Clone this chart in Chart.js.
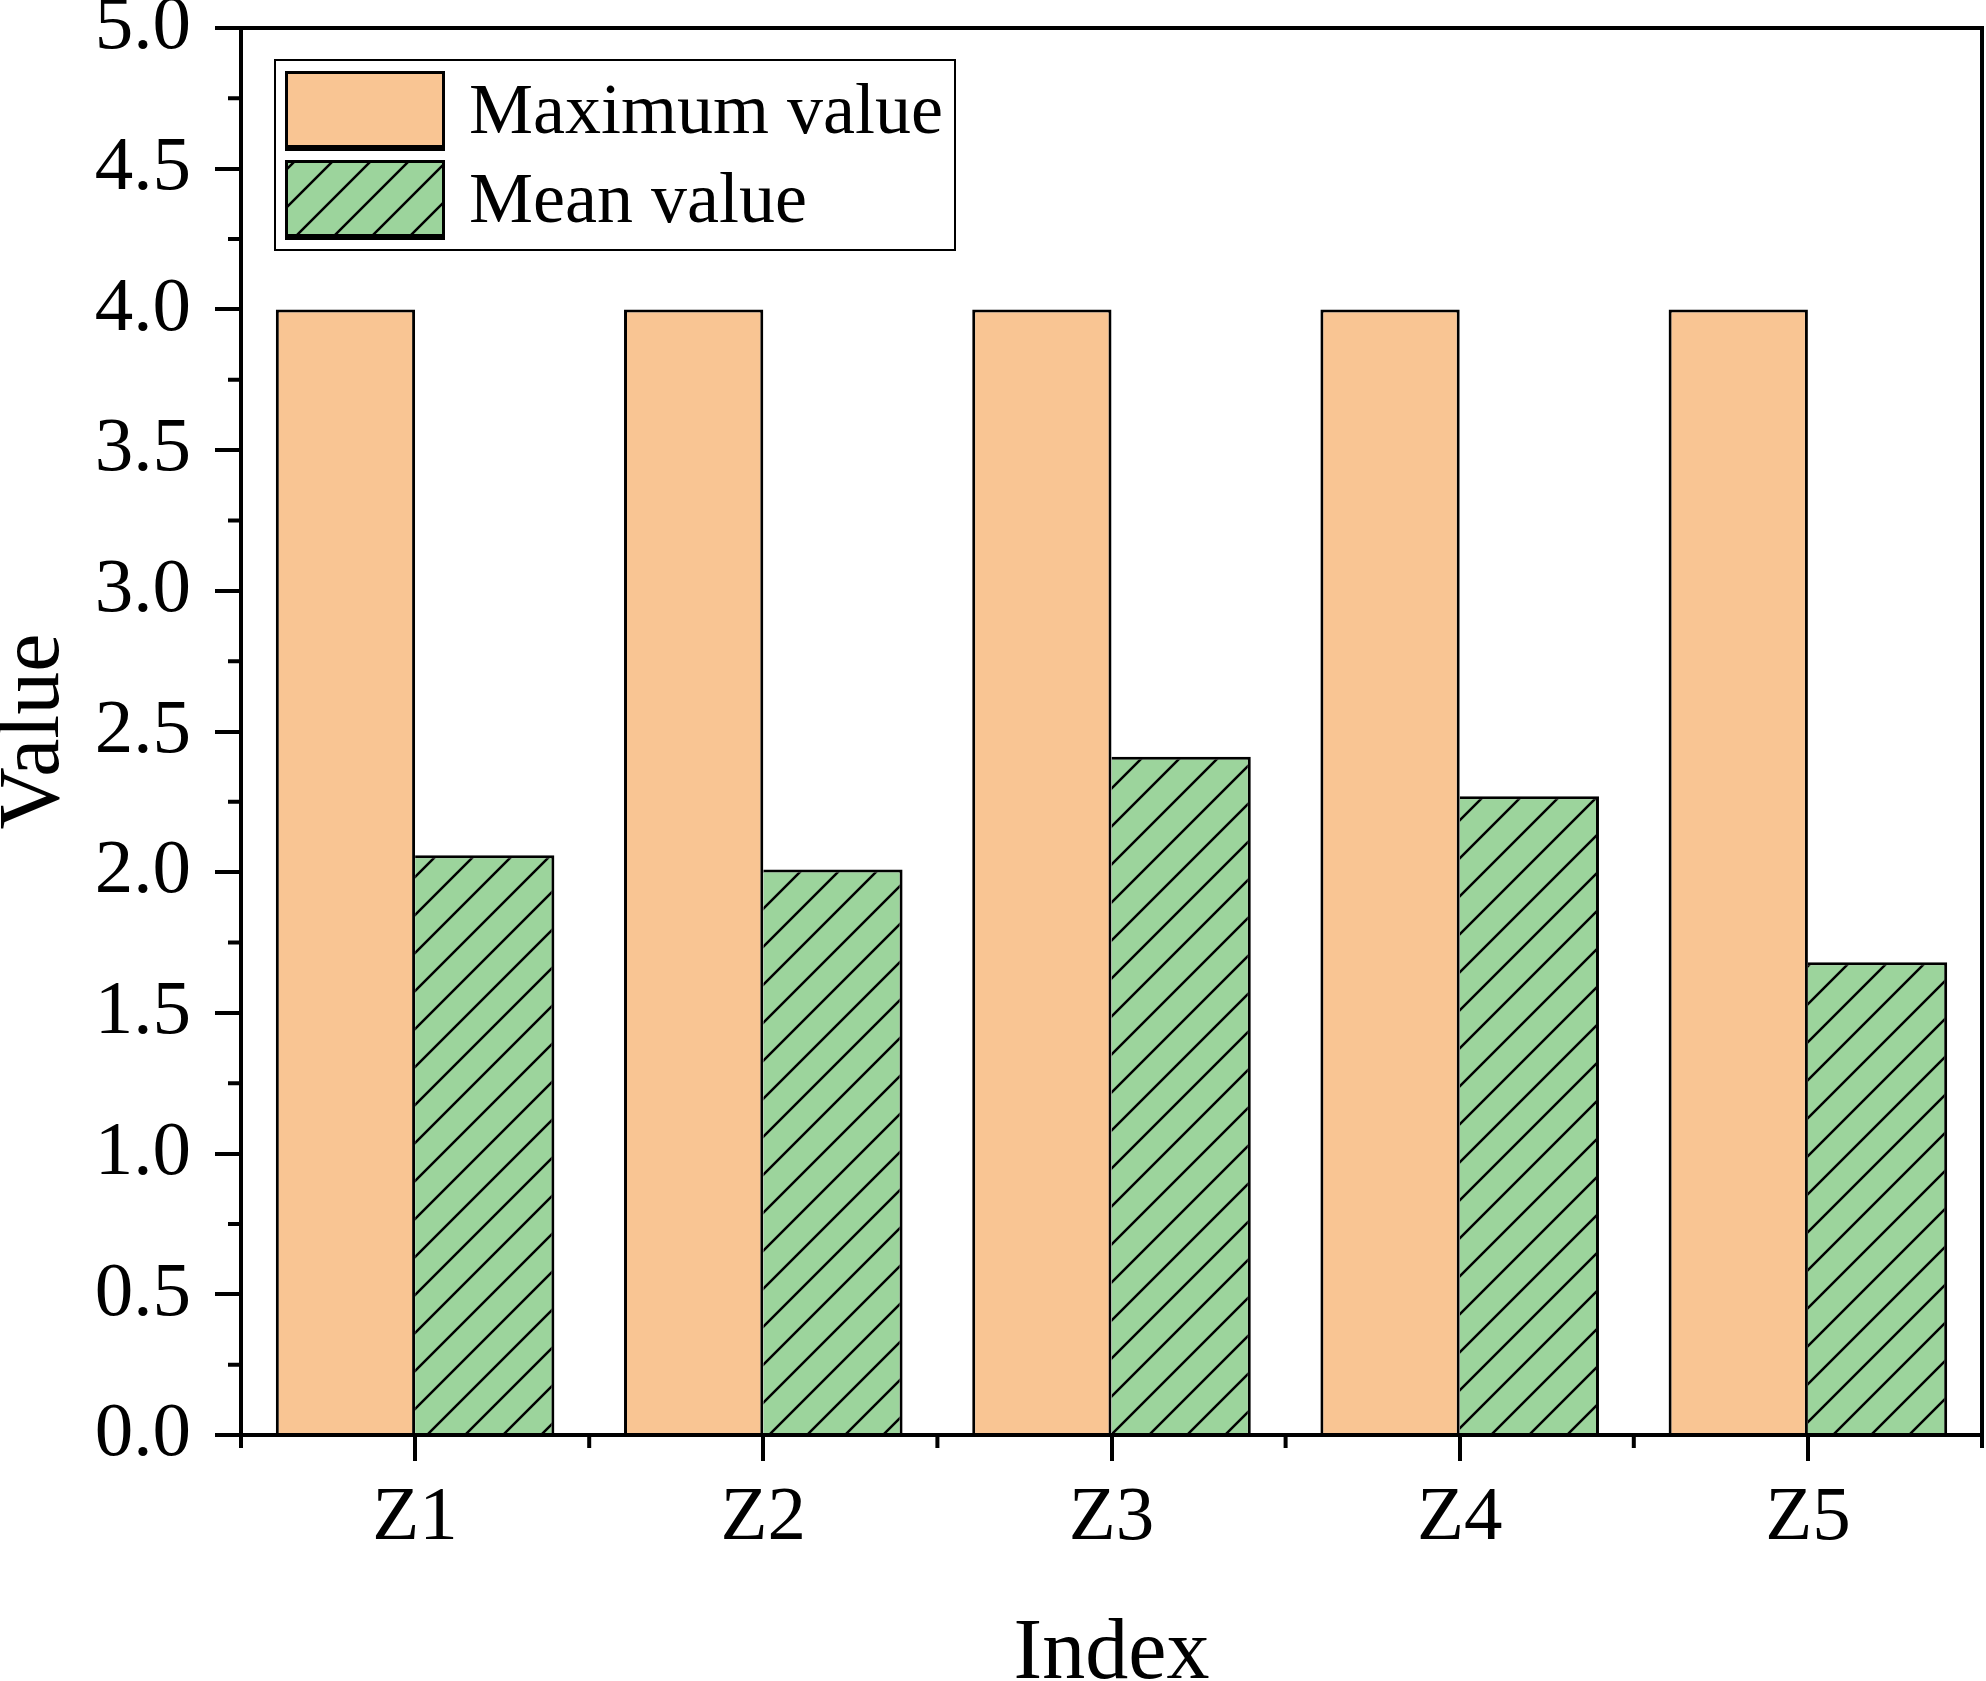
<!DOCTYPE html>
<html>
<head>
<meta charset="utf-8">
<script src="https://cdn.jsdelivr.net/npm/chart.js@4.4.1/dist/chart.umd.min.js"></script>
<style>
html, body { margin: 0; padding: 0; background: #fff; }
canvas { display: block; }
</style>
</head>
<body>
<canvas id="chart" width="1986" height="1681"></canvas>
<script>
// data
const categories = ['Z1', 'Z2', 'Z3', 'Z4', 'Z5']
const maxValues = [4.0, 4.0, 4.0, 4.0, 4.0]
const meanValues = [2.06, 2.01, 2.41, 2.27, 1.68]
const seriesNames = ['Maximum value', 'Mean value']
const yMin = 0
const yMax = 5
const yStep = 0.5

const FONT = '"Liberation Serif", "Times New Roman", serif'
const ORANGE = '#F9C593'
const GREEN = '#9CD49C'

// diagonal hatch like the origin plot
function makeHatch(bg) {
    const s = 38
    const c = document.createElement('canvas')
    c.width = s
    c.height = s
    const g = c.getContext('2d')
    g.fillStyle = bg
    g.fillRect(0, 0, s, s)
    g.strokeStyle = '#000'
    g.lineWidth = 2.5
    g.beginPath()
    g.moveTo(0, s); g.lineTo(s, 0)
    g.moveTo(-2, 2); g.lineTo(2, -2)
    g.moveTo(s - 2, s + 2); g.lineTo(s + 2, s - 2)
    g.stroke()
    return g.createPattern(c, 'repeat')
}
const hatch = makeHatch(GREEN)

// frame, minor ticks and legend box
const extras = {
    id: 'extras',
    afterDraw(chart) {
        const { ctx, chartArea: a } = chart
        const x = chart.scales.x
        const y = chart.scales.y
        ctx.save()
        ctx.strokeStyle = '#000'
        ctx.lineWidth = 4
        ctx.beginPath()
        for (let v = yMin + yStep / 2; v < yMax; v += yStep) {
            const py = y.getPixelForValue(v)
            ctx.moveTo(a.left - 13, py)
            ctx.lineTo(a.left, py)
        }
        for (let i = 0; i <= categories.length; i++) {
            const px = x.getPixelForValue(i - 0.5)
            ctx.moveTo(px, a.bottom)
            ctx.lineTo(px, a.bottom + 13)
        }
        ctx.stroke()
        ctx.strokeRect(a.left, a.top, a.right - a.left, a.bottom - a.top)

        // legend
        ctx.lineWidth = 2
        ctx.strokeRect(275, 60, 680, 190)
        const rows = [112, 201]
        chart.data.datasets.forEach((ds, i) => {
            const cy = rows[i]
            const top = cy - 41
            ctx.fillStyle = ds.backgroundColor
            ctx.fillRect(285, top, 160, 80)
            ctx.lineWidth = 3
            ctx.strokeRect(286.5, top + 1.5, 157, 77)
            ctx.fillStyle = '#000'
            ctx.fillRect(285, top + 74, 160, 6)
            ctx.font = '72px ' + FONT
            ctx.textBaseline = 'middle'
            ctx.textAlign = 'left'
            ctx.fillText(ds.label, 469, cy + 2)
        })
        ctx.restore()
    }
}

new Chart(document.getElementById('chart'), {
    type: 'bar',
    data: {
        labels: categories,
        datasets: [{
            label: seriesNames[0],
            data: maxValues,
            backgroundColor: ORANGE,
            borderColor: '#000',
            borderWidth: { top: 3, left: 3, right: 3, bottom: 0 },
            categoryPercentage: 0.8,
            barPercentage: 1.0
        }, {
            label: seriesNames[1],
            data: meanValues,
            backgroundColor: hatch,
            borderColor: '#000',
            borderWidth: { top: 3, left: 0, right: 3, bottom: 0 },
            categoryPercentage: 0.8,
            barPercentage: 1.0
        }]
    },
    options: {
        responsive: false,
        animation: false,
        devicePixelRatio: 1,
        layout: { padding: { top: 28, right: 4, left: 0, bottom: 0 } },
        plugins: {
            legend: { display: false },
            tooltip: { enabled: false }
        },
        scales: {
            x: {
                grid: { display: true, offset: false, drawOnChartArea: false, tickLength: 26, lineWidth: 4, color: '#000' },
                border: { display: true, width: 4, color: '#000' },
                ticks: { color: '#000', padding: 12, font: { family: FONT, size: 77 }, maxRotation: 0 },
                title: { display: true, text: 'Index', color: '#000', padding: 0, font: { family: FONT, size: 86, lineHeight: '52px' } },
                afterFit(s) {
                    s.height = 246
                    s.paddingLeft = 0
                    s.paddingRight = 0
                }
            },
            y: {
                min: yMin,
                max: yMax,
                grid: { display: true, drawOnChartArea: false, tickLength: 26, lineWidth: 4, color: '#000' },
                border: { display: true, width: 4, color: '#000' },
                ticks: { stepSize: yStep, autoSkip: false, color: '#000', padding: 24, font: { family: FONT, size: 77 }, callback: v => v.toFixed(1) },
                title: { display: true, text: 'Value', color: '#000', padding: 0, font: { family: FONT, size: 86, lineHeight: '70px' } },
                afterFit(s) {
                    s.width = 241
                    s.paddingTop = 0
                    s.paddingBottom = 0
                }
            }
        }
    },
    plugins: [extras]
})
</script>
</body>
</html>
